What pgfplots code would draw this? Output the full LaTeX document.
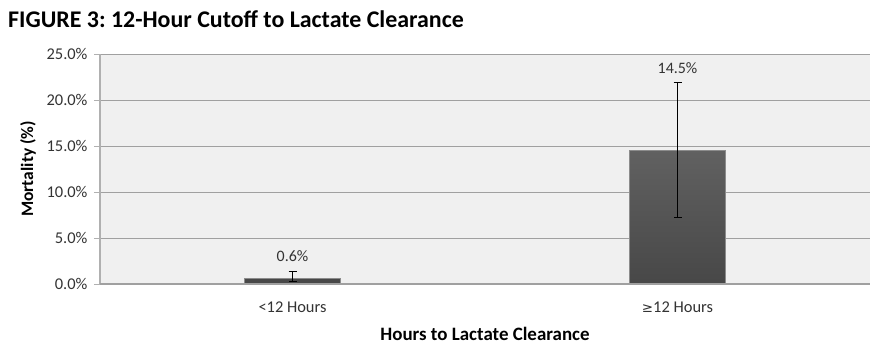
\documentclass[border=0pt]{standalone}
\usepackage{pgfplots}
\pgfplotsset{compat=1.18}
\usepackage{fontspec}
\setmainfont{Carlito}
\newfontfamily\symfont{DejaVu Sans}
\definecolor{plotbg}{HTML}{F0F0F0}
\definecolor{gridc}{HTML}{A0A0A0}
\definecolor{axc}{HTML}{B0B0B0}
\frenchspacing
\begin{document}
\begin{tikzpicture}
\begin{axis}[
  scale only axis,
  width=770bp, height=230bp,
  xmin=-0.5, xmax=1.5,
  ymin=0, ymax=25,
  axis background/.style={fill=plotbg},
  axis line style={draw=none},
  axis x line*=bottom,
  axis y line*=left,
  ytick={0,5,10,15,20,25},
  yticklabels={0.0\%,5.0\%,10.0\%,15.0\%,20.0\%,25.0\%},
  ymajorgrids,
  major grid style={draw=gridc, line width=0.9pt},
  y tick style={draw=axc, line width=0.9pt},
  major tick length=6bp,
  tick align=outside,
  xtick={0,1},
  xticklabels={{<12 Hours},{{\symfont\fontsize{13.5}{16}\selectfont ≥}12 Hours}},
  x tick style={draw=none},
  ticklabel style={font=\fontsize{16.5}{19}\selectfont, text=black!80},
  /pgf/number format/assume math mode=true,
  xticklabel style={yshift=-8bp},
  yticklabel style={xshift=-3bp},
  ylabel={\bfseries Mortality (\%)},
  xlabel={\bfseries Hours to Lactate Clearance},
  xlabel style={font=\fontsize{19}{22}\selectfont, yshift=-8bp},
  ylabel style={font=\fontsize{17.5}{20}\selectfont, yshift=4bp},
  clip=false,
]
\draw[axc, line width=1.2pt] (rel axis cs:0,0) -- (rel axis cs:0,1);
\addplot[ybar, bar width=96bp, draw=black!45, top color=black!62, bottom color=black!72,
  error bars/.cd, y dir=both, y explicit, error bar style={black, line width=0.8pt},
  error mark options={rotate=90, mark size=4bp, black, line width=0.8pt}]
  coordinates {(0,0.6) += (0,0.8) -= (0,0.35) (1,14.5) += (0,7.4) -= (0,7.25)};
\addplot[only marks, mark=none, nodes near coords, point meta=explicit symbolic,
  nodes near coords style={font=\fontsize{16}{18}\selectfont, text=black!80, anchor=center}]
  coordinates {(0,3.05) [0.6\%] (1,23.45) [14.5\%]};
\draw[gridc, line width=1.2pt] (rel axis cs:0,0) -- (rel axis cs:1,0);
\node[anchor=south west, font=\fontsize{24}{28}\selectfont\bfseries, inner sep=0pt]
  at ([xshift=-92bp, yshift=26bp]rel axis cs:0,1) {FIGURE 3: 12-Hour Cutoff to Lactate Clearance};
\path (rel axis cs:0,0) ++(-100bp,-73bp) coordinate (bbA);
\path (rel axis cs:0,1) ++(781bp,54bp) coordinate (bbB);
\path (bbA) rectangle (bbB);
\end{axis}
\end{tikzpicture}
\end{document}
